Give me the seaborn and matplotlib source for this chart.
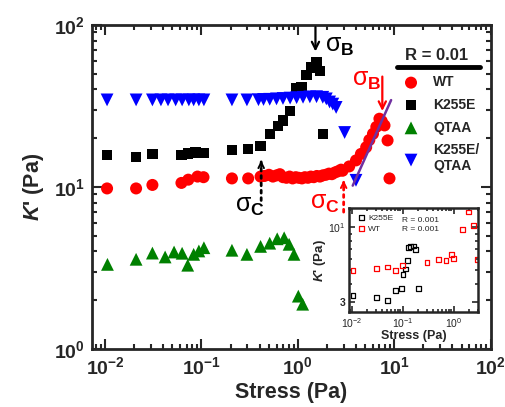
import numpy as np
import pandas as pd
import seaborn as sns
import matplotlib.pyplot as plt
from matplotlib.lines import Line2D

# Datos (Stress en Pa, K' en Pa)
wt_x = [0.0105, 0.021, 0.031, 0.062, 0.073, 0.091, 0.105, 0.207, 0.305, 0.41,
        0.45, 0.5, 0.55, 0.6, 0.65, 0.7, 0.76, 0.82, 0.88, 0.95, 1.02, 1.1, 1.18,
        1.27, 1.36, 1.46, 1.57, 1.69, 1.81, 1.95, 2.1, 2.25, 2.42, 2.6, 2.8,
        2.9, 3.4, 4.0, 4.5, 5.1, 5.5, 6.0, 6.5, 7.0, 7.4, 7.9, 8.5, 8.9]
wt_y = [9.8, 9.8, 10.3, 10.6, 11.1, 11.6, 11.5, 11.3, 11.3, 11.6,
        11.7, 11.9, 11.6, 11.8, 12.0, 11.5, 11.4, 11.6, 11.3, 11.5, 11.4, 11.3, 11.5,
        11.4, 11.6, 11.5, 11.7, 11.6, 11.8, 11.9, 12.1, 12.0, 12.3, 12.5, 12.8,
        12.6, 13.4, 14.6, 16.0, 17.6, 19.5, 21.3, 23.5, 26.4, 25.5, 24.0, 19.4, 11.3]

k255e_x = [0.0105, 0.021, 0.031, 0.062, 0.073, 0.087, 0.095, 0.105, 0.207, 0.305,
           0.41, 0.51, 0.62, 0.70, 0.83, 0.97, 1.09, 1.23, 1.38, 1.56, 1.69, 1.81]
k255e_y = [15.8, 15.3, 16.0, 15.8, 16.1, 16.3, 16.2, 16.2, 17.0, 17.2,
           18.0, 21.2, 23.9, 25.7, 29.6, 40.8, 41.5, 49.3, 54.6, 58.6, 52.0, 21.3]

qtaa_x = [0.0106, 0.021, 0.031, 0.042, 0.052, 0.063, 0.072, 0.083, 0.094, 0.106,
          0.207, 0.296, 0.41, 0.51, 0.61, 0.72, 0.81, 0.91, 1.01, 1.12]
qtaa_y = [3.33, 3.58, 3.91, 3.7, 3.97, 3.9, 3.29, 3.84, 4.03, 4.22,
          4.07, 3.84, 4.3, 4.5, 4.79, 4.86, 4.43, 3.84, 2.12, 1.89]

kq_x = [0.0105, 0.021, 0.031, 0.038, 0.045, 0.054, 0.063, 0.074, 0.083, 0.094,
        0.106, 0.207, 0.296, 0.39, 0.44, 0.51, 0.60, 0.70, 0.83, 0.97, 1.13,
        1.33, 1.56, 1.81, 1.97, 2.13, 2.30, 2.49, 3.05, 4.0]
kq_y = [34.5, 34.5, 34.5, 34.5, 34.5, 34.5, 34.5, 34.5, 34.5, 34.5,
        34.5, 34.5, 34.5, 34.6, 34.7, 34.8, 35.0, 35.2, 35.4, 35.6, 35.8,
        36.0, 36.1, 35.8, 35.0, 33.5, 32.5, 31.0, 21.7, 11.0]

fit_x = [3.7, 9.25]
fit_y = [10.2, 34.4]

# Inset R = 0.001
in_k_x = [0.0105, 0.031, 0.051, 0.072, 0.093, 0.101, 0.112, 0.125, 0.131, 0.145, 0.164, 0.177, 0.206]
in_k_y = [3.33, 3.23, 3.08, 3.6, 3.7, 4.65, 5.09, 5.85, 7.2, 7.3, 7.4, 6.95, 3.7]
in_wt_x = [0.0105, 0.031, 0.051, 0.072, 0.1, 0.3, 0.51, 0.71, 0.91, 1.0, 1.5, 2.0, 2.5, 2.95]
in_wt_y = [4.98, 5.14, 5.26, 4.96, 5.37, 5.67, 5.92, 5.85, 6.41, 6.0, 9.7, 12.8, 10.3, 5.92]

xticks = [1e-2, 1e-1, 1e0, 1e1, 1e2]
xtick_labels = [r'$\mathbf{10^{-2}}$', r'$\mathbf{10^{-1}}$', r'$\mathbf{10^{0}}$',
                r'$\mathbf{10^{1}}$', r'$\mathbf{10^{2}}$']
yticks = [1e0, 1e1, 1e2]
ytick_labels = [r'$\mathbf{10^{0}}$', r'$\mathbf{10^{1}}$', r'$\mathbf{10^{2}}$']

sns.set_style("ticks")
plt.rcParams['font.family'] = ['Liberation Sans', 'DejaVu Sans']
plt.rcParams['font.weight'] = 'bold'
plt.rcParams['mathtext.fontset'] = 'custom'
plt.rcParams['mathtext.rm'] = 'Liberation Sans:normal'
plt.rcParams['mathtext.bf'] = 'Liberation Sans:bold'
plt.rcParams['mathtext.it'] = 'Liberation Sans:italic:normal'
plt.rcParams['mathtext.bfit'] = 'Liberation Sans:bold:italic'
plt.rcParams['mathtext.sf'] = 'Liberation Sans:normal'

fig = plt.figure(figsize=(5.06, 4.07), dpi=100)
ax = fig.add_axes([0.182, 0.1425, 0.788, 0.796])

sns.scatterplot(x=wt_x, y=wt_y, ax=ax, marker='o', color='#ff0000', s=75,
                edgecolor='none', label='WT', zorder=3)
sns.scatterplot(x=k255e_x, y=k255e_y, ax=ax, marker='s', color='black', s=55,
                edgecolor='none', label='K255E', zorder=3)
sns.scatterplot(x=qtaa_x, y=qtaa_y, ax=ax, marker='^', color='#008000', s=85,
                edgecolor='none', label='QTAA', zorder=3)
sns.scatterplot(x=kq_x, y=kq_y, ax=ax, marker='v', color='#0000ff', s=85,
                edgecolor='none', label='K255E/\nQTAA', zorder=3)
sns.lineplot(x=fit_x, y=fit_y, ax=ax, color='#7030a0', lw=1.8, zorder=4, legend=False)

ax.set_xscale('log')
ax.set_yscale('log')
ax.set_xlim(10 ** -2.134, 100)
ax.set_ylim(1, 100)
ax.set_xticks(xticks)
ax.set_xticklabels(xtick_labels)
ax.set_yticks(yticks)
ax.set_yticklabels(ytick_labels)
ax.tick_params(which='both', direction='in', top=True, right=True, labelsize=14, width=1.5, pad=5)
ax.tick_params(which='major', length=7)
ax.tick_params(which='minor', length=3.5)
for sp in ax.spines.values():
    sp.set_linewidth(2)
ax.set_xlabel('Stress (Pa)', fontsize=15.5, fontweight='bold', labelpad=3)
ax.set_ylabel(r"$\mathbfit{K}$' (Pa)", fontsize=15.5, fontweight='bold', labelpad=6)

leg = ax.legend(loc='upper left', bbox_to_anchor=(0.765, 0.862), frameon=False,
                fontsize=10, handletextpad=1.0, labelspacing=0.62, borderaxespad=0,
                handlelength=1.2)
for t in leg.get_texts():
    t.set_fontweight('bold')
ax.text(0.865, 0.905, 'R = 0.01', transform=ax.transAxes, fontsize=12,
        fontweight='bold', ha='center', va='center')
ax.add_line(Line2D([0.764, 0.972], [0.871, 0.871], transform=ax.transAxes, color='black', lw=3.5))


def sigma(x, y, sub, color):
    ax.text(x, y, r'$\mathrm{\sigma}_{\mathbf{%s}}$' % sub, fontsize=18, color=color,
            ha='left', va='center')


# flechas y etiquetas sigma
ax.annotate('', xy=(1.52, 66), xytext=(1.52, 101), annotation_clip=False,
            arrowprops=dict(arrowstyle='->', color='black', lw=1.6, mutation_scale=13))
sigma(1.93, 74, 'B', 'black')
ax.annotate('', xy=(7.5, 28.3), xytext=(7.5, 50),
            arrowprops=dict(arrowstyle='->', color='#ff0000', lw=1.6, mutation_scale=13))
sigma(3.65, 46, 'B', '#ff0000')

ax.annotate('', xy=(0.416, 14.3), xytext=(0.416, 8.26),
            arrowprops=dict(arrowstyle='-', color='black', lw=2, ls=':', shrinkA=0, shrinkB=0))
ax.annotate('', xy=(0.416, 14.6), xytext=(0.416, 13.4),
            arrowprops=dict(arrowstyle='->', color='black', lw=1.4, mutation_scale=10, shrinkA=0, shrinkB=0))
sigma(0.225, 7.6, 'C', 'black')
ax.annotate('', xy=(2.98, 10.7), xytext=(2.98, 7.0),
            arrowprops=dict(arrowstyle='-', color='#ff0000', lw=2, ls=':', shrinkA=0, shrinkB=0))
ax.annotate('', xy=(2.98, 11.0), xytext=(2.98, 10.0),
            arrowprops=dict(arrowstyle='->', color='#ff0000', lw=1.4, mutation_scale=10, shrinkA=0, shrinkB=0))
sigma(1.33, 7.95, 'C', '#ff0000')

# inset
axi = fig.add_axes([0.690, 0.2327, 0.2549, 0.2555])
sns.scatterplot(x=in_k_x, y=in_k_y, ax=axi, marker='s', facecolor='none', edgecolor='black',
                linewidth=0.9, s=12, label='K255E')
sns.scatterplot(x=in_wt_x, y=in_wt_y, ax=axi, marker='s', facecolor='none', edgecolor='#ff0000',
                linewidth=0.9, s=12, label='WT')
axi.set_xscale('log')
axi.set_yscale('log')
axi.set_xlim(10 ** -2.054, 10 ** 0.484)
axi.set_ylim(2.53, 13.6)
axi.set_xticks([1e-2, 1e-1, 1e0])
axi.set_xticklabels([r'$\mathrm{10^{-2}}$', r'$\mathrm{10^{-1}}$', r'$\mathrm{10^{0}}$'])
axi.set_yticks([3, 10])
axi.set_yticklabels(['3', r'$\mathrm{10^{1}}$'])
axi.tick_params(which='both', direction='in', top=True, right=True, labelsize=7.5, width=1.2, pad=2.5)
axi.tick_params(which='major', length=4)
axi.tick_params(which='minor', length=2, labelleft=False, labelbottom=False)
for sp in axi.spines.values():
    sp.set_linewidth(1.8)
axi.set_xlabel('Stress (Pa)', fontsize=9, fontweight='bold', labelpad=0)
axi.set_ylabel(r"$\mathbfit{K}$' (Pa)", fontsize=9.5, fontweight='bold', labelpad=0)
lg2 = axi.legend(loc='center left', bbox_to_anchor=(0.03, 0.855), frameon=False, fontsize=6,
                 handletextpad=0.2, labelspacing=0.35, borderaxespad=0, handlelength=1.2)
for t in lg2.get_texts():
    t.set_fontweight('normal')
axi.text(0.41, 0.885, 'R = 0.001', transform=axi.transAxes, fontsize=6, fontweight='normal', va='center')
axi.text(0.41, 0.80, 'R = 0.001', transform=axi.transAxes, fontsize=6, fontweight='normal', va='center')

fig.savefig('out.png', dpi=100)
